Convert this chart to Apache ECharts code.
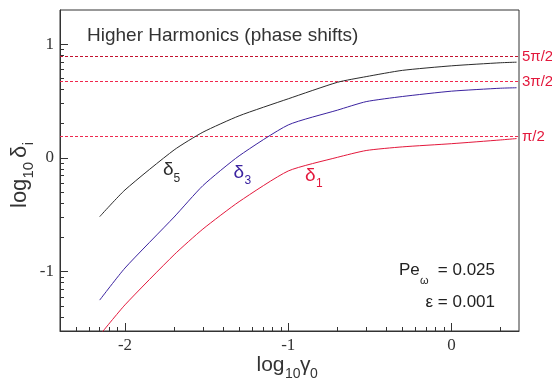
<!DOCTYPE html>
<html>
<head>
<meta charset="utf-8">
<script src="https://cdn.jsdelivr.net/npm/echarts@6/dist/echarts.min.js"></script>
<style>
  html, body { margin: 0; padding: 0; background: #fff; }
  #chart { width: 552px; height: 381px; }
</style>
</head>
<body>
<div id="chart"></div>
<script>
// Drive parameter and phase-shift values (log10 of delta_i) for the first three odd harmonics
const gamma0 = [0.007, 0.01, 0.02, 0.03, 0.05, 0.1, 0.2, 0.3, 0.5, 1, 2, 2.5];
const logDelta1 = [-1.56, -1.293, -0.852, -0.626, -0.385, -0.115, 0.005, 0.065, 0.097, 0.125, 0.158, 0.17];
const logDelta3 = [-1.251, -0.969, -0.52, -0.244, 0.018, 0.29, 0.42, 0.495, 0.54, 0.587, 0.613, 0.617];
const logDelta5 = [-0.517, -0.282, 0.07, 0.226, 0.37, 0.52, 0.665, 0.715, 0.77, 0.81, 0.837, 0.842];

// Tick labels (exponents) and the asymptotic phase levels
const xTickLabels = [-2, -1, 0];
const yTickLabels = [-1, 0, 1];
const phaseLevels = [Math.PI / 2, 3 * Math.PI / 2, 5 * Math.PI / 2];
const phaseLabels = ['π/2', '3π/2', '5π/2'];
const phaseColors = ['#f0284e', '#f0284e', '#c4102e'];

// Axis extents in decades
const xMin = Math.log10(0.004), xMax = 0.413;
const yMin = Math.log10(0.03), yMax = Math.log10(20);

// Logarithmic minor ticks (2..9 within each decade)
function minorTicks(lo, hi) {
  const out = [];
  for (let d = Math.floor(lo) - 1; d <= Math.ceil(hi); d++) {
    for (let k = 2; k <= 9; k++) {
      const v = d + Math.log10(k);
      if (v > lo + 1e-6 && v < hi - 1e-6) out.push(v);
    }
  }
  return out;
}
const xMinor = minorTicks(xMin, xMax);
const yMinor = minorTicks(yMin, yMax);

const toPts = arr => gamma0.map((g, i) => [Math.log10(g), arr[i]]);

const AXIS = '#333';
const SANS = 'Liberation Sans';
const SERIF = 'Liberation Serif';

function majorAxis(min, max, ticks, pos) {
  return {
    type: 'value', min: min, max: max, position: pos,
    axisLine: { show: true, onZero: false, lineStyle: { color: AXIS, width: 1 } },
    splitLine: { show: false },
    axisTick: { show: true, inside: true, length: 8, customValues: ticks, lineStyle: { color: AXIS, width: 1 } },
    axisLabel: {
      show: true, customValues: ticks, margin: 6,
      color: '#333', fontFamily: SERIF, fontSize: 17,
      formatter: v => String(Math.round(v))
    }
  };
}
function minorAxis(min, max, ticks, pos) {
  return {
    type: 'value', min: min, max: max, position: pos, offset: 0,
    axisLine: { show: false, onZero: false },
    splitLine: { show: false },
    axisTick: { show: true, inside: true, length: 4, customValues: ticks, lineStyle: { color: AXIS, width: 1 } },
    axisLabel: { show: false }
  };
}

function curve(name, values, color) {
  return {
    name: name, type: 'line', data: toPts(values), showSymbol: false, clip: true,
    smooth: 0.2, silent: true,
    lineStyle: { color: color, width: 1 }
  };
}

// Dashed reference levels at odd multiples of pi/2, labelled past the right edge
const levelSeries = {
  type: 'custom', silent: true, clip: false,
  data: phaseLevels.map((p, i) => [Math.log10(p), i]),
  renderItem: function (params, api) {
    const v = api.value(0);
    const i = api.value(1);
    const a = api.coord([xMin, v]);
    const b = api.coord([xMax, v]);
    const y = Math.round(a[1]) + 0.5;
    return {
      type: 'group',
      children: [
        {
          type: 'line',
          shape: { x1: a[0], y1: y, x2: b[0], y2: y },
          style: { stroke: phaseColors[i], lineWidth: 1, lineDash: [3, 2] }
        },
        {
          type: 'text',
          x: b[0] + 3, y: y,
          style: {
            text: phaseLabels[i], fill: '#e3183c',
            font: '15px "Liberation Sans"', verticalAlign: 'middle', align: 'left'
          }
        }
      ]
    };
  }
};

const chart = echarts.init(document.getElementById('chart'), null, { renderer: 'canvas' });

const option = {
  animation: false,
  backgroundColor: '#fff',
  grid: { left: 60, top: 10, width: 459, height: 321, show: true, borderColor: AXIS, borderWidth: 1, backgroundColor: 'transparent' },
  xAxis: [majorAxis(xMin, xMax, xTickLabels, 'bottom'), minorAxis(xMin, xMax, xMinor, 'bottom')],
  yAxis: [majorAxis(yMin, yMax, yTickLabels, 'left'), minorAxis(yMin, yMax, yMinor, 'left')],
  series: [
    levelSeries,
    curve('delta5', logDelta5, '#2b2b2b'),
    curve('delta3', logDelta3, '#3b23a0'),
    curve('delta1', logDelta1, '#e3183c')
  ],
  graphic: [
    { type: 'text', left: 87, top: 26, style: { text: 'Higher Harmonics (phase shifts)', fill: '#333', font: '19px "Liberation Sans"' } },
    // curve labels
    { type: 'text', x: 163, y: 170, style: { text: 'δ', fill: '#2b2b2b', font: '19px "Liberation Sans"', verticalAlign: 'middle' } },
    { type: 'text', x: 173.5, y: 178.5, style: { text: '5', fill: '#2b2b2b', font: '12px "Liberation Sans"', verticalAlign: 'middle' } },
    { type: 'text', x: 233.5, y: 172.5, style: { text: 'δ', fill: '#3b23a0', font: '19px "Liberation Sans"', verticalAlign: 'middle' } },
    { type: 'text', x: 244.5, y: 180.5, style: { text: '3', fill: '#3b23a0', font: '12px "Liberation Sans"', verticalAlign: 'middle' } },
    { type: 'text', x: 305, y: 175.5, style: { text: 'δ', fill: '#e3183c', font: '19px "Liberation Sans"', verticalAlign: 'middle' } },
    { type: 'text', x: 316, y: 183.5, style: { text: '1', fill: '#e3183c', font: '12px "Liberation Sans"', verticalAlign: 'middle' } },
    // parameters
    { type: 'text', x: 399, y: 270.5, style: { text: 'Pe', fill: '#222', font: '17px "Liberation Sans"', verticalAlign: 'middle' } },
    { type: 'text', x: 420, y: 281, style: { text: 'ω', fill: '#222', font: '11px "Liberation Sans"', verticalAlign: 'middle' } },
    { type: 'text', x: 495, y: 270.5, style: { text: '= 0.025', fill: '#222', font: '17px "Liberation Sans"', verticalAlign: 'middle', align: 'right' } },
    { type: 'text', x: 495, y: 302, style: { text: 'ε = 0.001', fill: '#222', font: '17px "Liberation Sans"', verticalAlign: 'middle', align: 'right' } },
    // x-axis title
    { type: 'text', x: 256.5, y: 365, style: { text: 'log', fill: '#333', font: '21px "Liberation Sans"', verticalAlign: 'middle' } },
    { type: 'text', x: 285, y: 374, style: { text: '10', fill: '#333', font: '14px "Liberation Sans"', verticalAlign: 'middle' } },
    { type: 'text', x: 300, y: 365, style: { text: 'γ', fill: '#333', font: '21px "Liberation Sans"', verticalAlign: 'middle' } },
    { type: 'text', x: 310, y: 374, style: { text: '0', fill: '#333', font: '14px "Liberation Sans"', verticalAlign: 'middle' } },
    // y-axis title (rotated)
    {
      type: 'group', x: 28, y: 168, rotation: Math.PI / 2,
      children: [
        { type: 'text', x: -40, y: -8, style: { text: 'log', fill: '#333', font: '22px "Liberation Sans"', verticalAlign: 'middle' } },
        { type: 'text', x: -10.6, y: 1, style: { text: '10', fill: '#333', font: '15px "Liberation Sans"', verticalAlign: 'middle' } },
        { type: 'text', x: 10, y: -8, style: { text: 'δ', fill: '#333', font: '22px "Liberation Sans"', verticalAlign: 'middle' } },
        { type: 'text', x: 22.8, y: 1, style: { text: 'i', fill: '#333', font: '15px "Liberation Sans"', verticalAlign: 'middle' } }
      ]
    }
  ]
};

chart.setOption(option);
</script>
</body>
</html>
